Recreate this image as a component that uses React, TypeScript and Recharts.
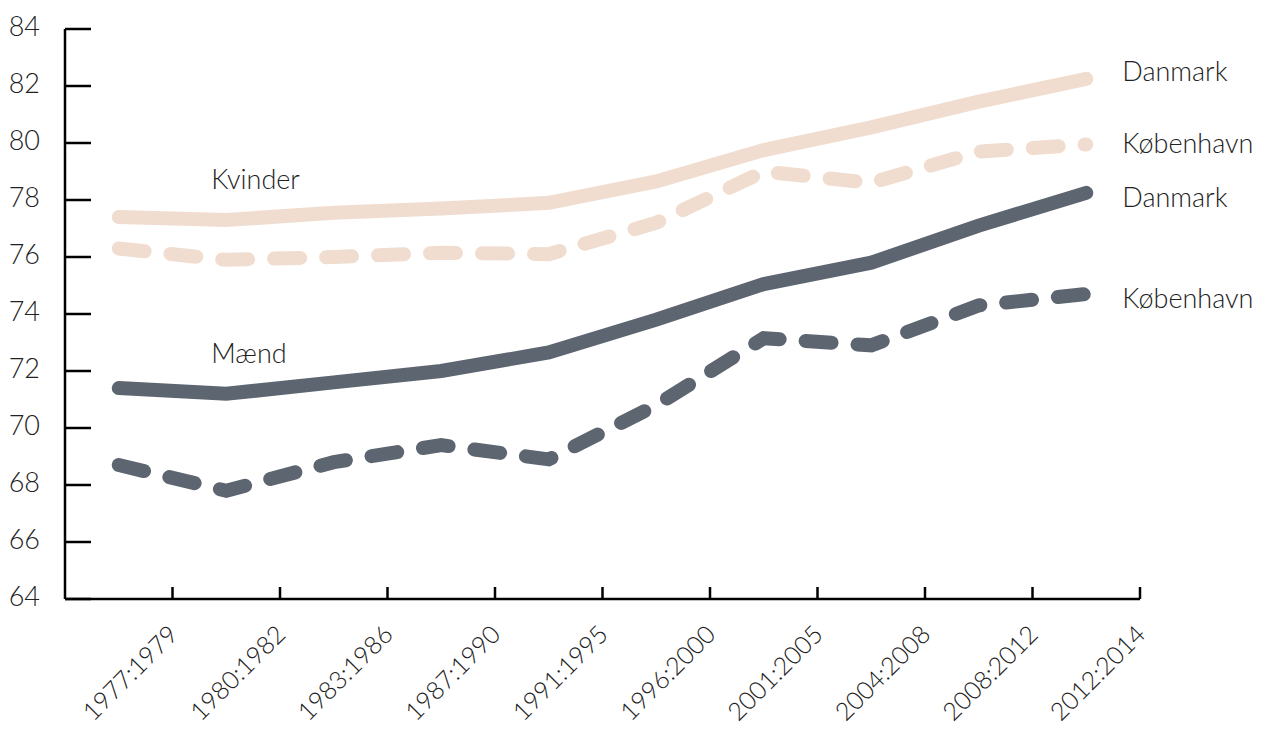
import React from 'react'
import { LineChart, Line, XAxis, YAxis } from 'recharts'

const categories = ['1977:1979', '1980:1982', '1983:1986', '1987:1990', '1991:1995', '1996:2000', '2001:2005', '2004:2008', '2008:2012', '2012:2014']
const kvinderDanmark = [77.4, 77.3, 77.55, 77.7, 77.9, 78.65, 79.75, 80.55, 81.45, 82.25]
const kvinderKbh = [76.3, 75.9, 76.0, 76.15, 76.1, 77.2, 79.0, 78.6, 79.7, 79.95]
const maendDanmark = [71.4, 71.2, 71.6, 72.0, 72.65, 73.8, 75.05, 75.8, 77.1, 78.25]
const maendKbh = [68.7, 67.8, 68.8, 69.4, 68.9, 70.8, 73.15, 72.9, 74.3, 74.7]
const yTicks = [64, 66, 68, 70, 72, 74, 76, 78, 80, 82, 84]
const xTicks = [1, 2, 3, 4, 5, 6, 7, 8, 9, 10]

const data = categories.map((c, i) => ({
  x: i + 0.5,
  period: c,
  kd: kvinderDanmark[i],
  kk: kvinderKbh[i],
  md: maendDanmark[i],
  mk: maendKbh[i],
}))

const LIGHT = '#F0DDCF'
const DARK = '#5D6571'
const FONT = 'Lato, sans-serif'

const YTick = ({ x, y, payload }: any) => (
  <g>
    <line x1={x + 25} x2={x + 51} y1={y} y2={y} stroke="#000" strokeWidth={2.5} />
    <text x={x} y={y} dy={7} textAnchor="end" fontSize={27} fontWeight={300} fontFamily={FONT} fill="#222">
      {payload.value}
    </text>
  </g>
)

const XTick = ({ x, y, payload }: any) => (
  <g>
    <line x1={x} x2={x} y1={y - 12} y2={y} stroke="#000" strokeWidth={2.5} />
    <text
      x={x + 7}
      y={y + 37}
      textAnchor="end"
      fontSize={25}
      fontWeight={300}
      fontFamily={FONT}
      fill="#222"
      transform={`rotate(-45 ${x + 7} ${y + 37})`}
    >
      {categories[payload.value - 1]}
    </text>
  </g>
)

const endLabel = (text: string, dy: number, group?: string) => (props: any) => {
  const { x, y, index } = props
  if (index === categories.length - 1) {
    return (
      <text x={x + 36} y={y + dy} fontSize={27} fontWeight={300} fontFamily={FONT} fill="#222">
        {text}
      </text>
    )
  }
  if (group && index === 1) {
    return (
      <text x={x - 15} y={y - 31} fontSize={27} fontWeight={300} fontFamily={FONT} fill="#222">
        {group}
      </text>
    )
  }
  return null
}

export default function App() {
  return (
    <div style={{ position: 'absolute', left: 0, top: 0 }}>
      <LineChart width={1273} height={729} data={data} margin={{ top: 29, right: 133, bottom: 0, left: 0 }}>
        <XAxis
          dataKey="x"
          type="number"
          domain={[0, 10]}
          ticks={xTicks}
          interval={0}
          height={130}
          tickLine={false}
          tickSize={0}
          tickMargin={0}
          tick={<XTick />}
          axisLine={{ stroke: '#000', strokeWidth: 2.5 }}
        />
        <YAxis
          domain={[64, 84]}
          ticks={yTicks}
          interval={0}
          width={65}
          tickLine={false}
          tickSize={0}
          tickMargin={25}
          tick={<YTick />}
          axisLine={{ stroke: '#000', strokeWidth: 2.5 }}
        />
        <Line dataKey="kd" stroke={LIGHT} strokeWidth={14} strokeLinecap="round" dot={false} isAnimationActive={false} label={endLabel('Danmark', 2, 'Kvinder')} />
        <Line dataKey="kk" stroke={LIGHT} strokeWidth={14} strokeLinecap="round" strokeDasharray="26 26" dot={false} isAnimationActive={false} label={endLabel('København', 9)} />
        <Line dataKey="md" stroke={DARK} strokeWidth={14} strokeLinecap="round" dot={false} isAnimationActive={false} label={endLabel('Danmark', 14, 'Mænd')} />
        <Line dataKey="mk" stroke={DARK} strokeWidth={14} strokeLinecap="round" strokeDasharray="26 26" dot={false} isAnimationActive={false} label={endLabel('København', 14)} />
      </LineChart>
    </div>
  )
}
